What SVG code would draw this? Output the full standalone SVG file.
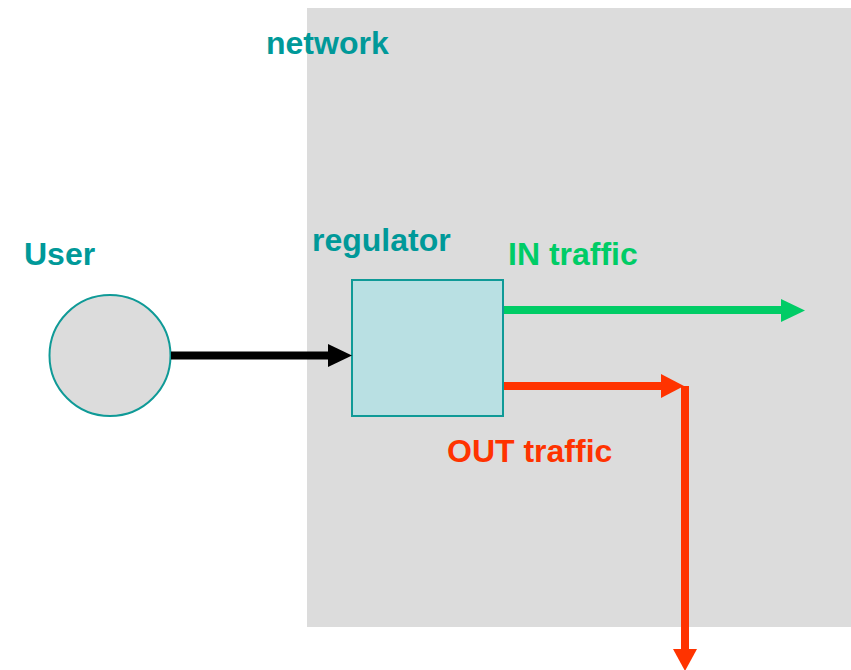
<svg xmlns="http://www.w3.org/2000/svg" width="851" height="670" viewBox="0 0 851 670">
  <style>
    .lbl { font-family: "Liberation Sans", Arial, sans-serif; font-weight: bold; font-size: 32px; }
    .teal { fill: #009999; }
    .green { fill: #00cc66; }
    .red { fill: #ff3300; }
  </style>
  <rect width="851" height="670" fill="#ffffff"/>

  <!-- network area -->
  <g id="network">
    <rect x="307" y="8" width="544" height="619" fill="#dcdcdc"/>
    <text class="lbl teal" x="266" y="54">network</text>
  </g>

  <g id="user">
    <circle cx="110" cy="355.5" r="60.5" fill="#dcdcdc" stroke="#0f9a97" stroke-width="2"/>
    <text class="lbl teal" x="24" y="265">User</text>
  </g>

  <g id="regulator">
    <rect x="352" y="280" width="151" height="136" fill="#b9e0e3" stroke="#0f9a97" stroke-width="2"/>
    <text class="lbl teal" x="312" y="251">regulator</text>
  </g>

  <g id="in-label">
    <text class="lbl green" x="508" y="265">IN traffic</text>
  </g>
  <g id="out-label">
    <text class="lbl red" x="447" y="462">OUT traffic</text>
  </g>

  <!-- connectors -->
  <g id="connectors">
    <line x1="171" y1="355.5" x2="330" y2="355.5" stroke="#000000" stroke-width="8"/>
    <polygon points="328,344 352,355.5 328,367" fill="#000000"/>

    <line x1="504" y1="310" x2="783" y2="310" stroke="#00cc66" stroke-width="8"/>
    <polygon points="781,299 805,310.5 781,322" fill="#00cc66"/>

    <line x1="504" y1="386" x2="662" y2="386" stroke="#ff3300" stroke-width="8"/>
    <polygon points="661,374 684,386 661,398" fill="#ff3300"/>
    <line x1="685" y1="386" x2="685" y2="651" stroke="#ff3300" stroke-width="8"/>
    <polygon points="673,649 697,649 685,671" fill="#ff3300"/>
  </g>
</svg>
